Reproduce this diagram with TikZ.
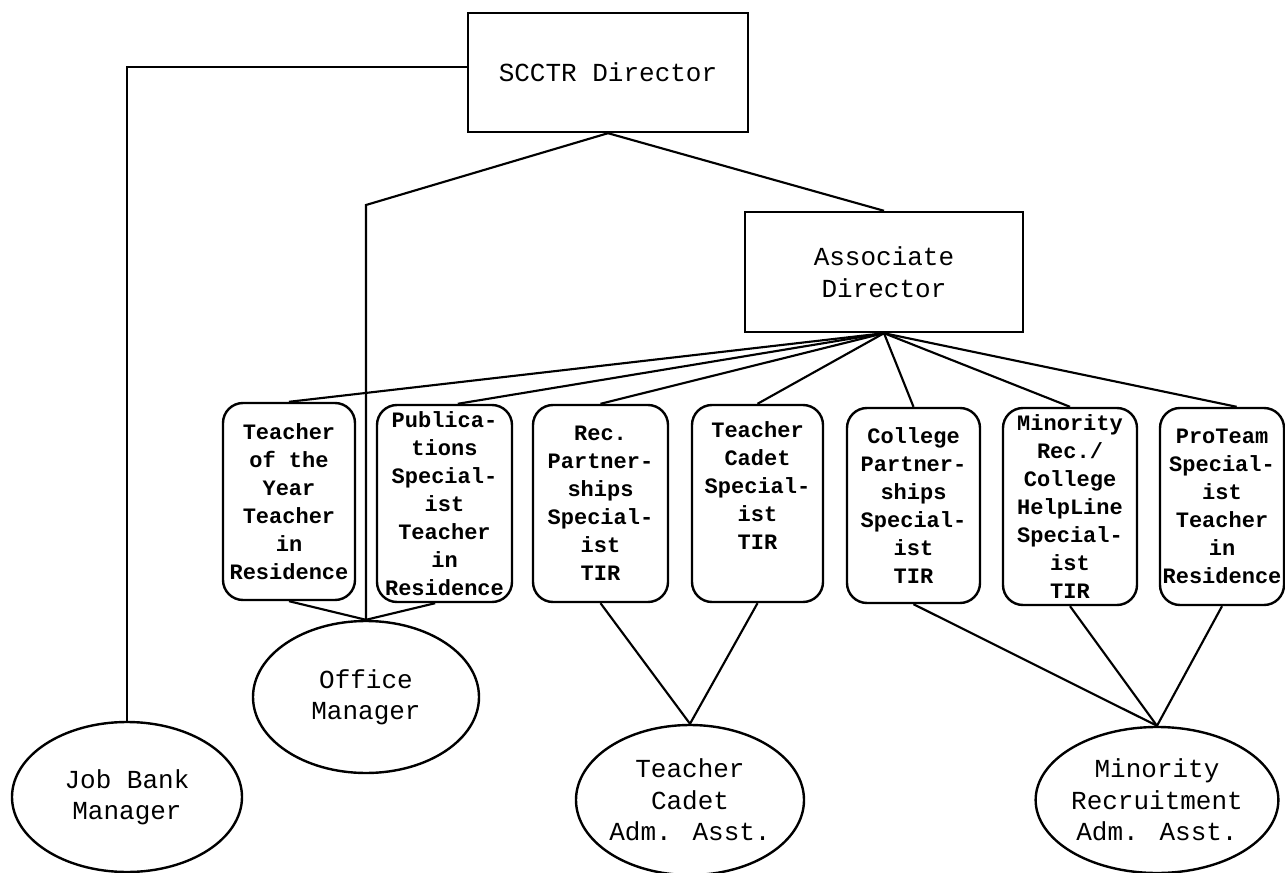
\documentclass[tikz,border=0pt]{standalone}
\usepackage{fontspec}
\setmainfont{Liberation Mono}
\usetikzlibrary{shapes.geometric}
\begin{document}
\begin{tikzpicture}[x=0.75pt,y=-0.75pt, line width=1.8pt,
 topbox/.style={draw, rectangle, inner sep=0pt, align=center, font=\fontsize{19.5}{24}\selectfont},
 rbox/.style={draw, rectangle, rounded corners=15pt, inner sep=0pt, align=center, font=\bfseries\fontsize{16.5}{21}\selectfont},
 oval/.style={draw, ellipse, inner sep=0pt, align=center, font=\fontsize{19.5}{23.5}\selectfont},
 conn/.style={line width=1.6pt}]
\useasboundingbox[fill=white] (0,0) rectangle (1285,873);

% top boxes
\node[topbox, minimum width=210pt, minimum height=89.25pt] (dir) at (608,72.5) {SCCTR Director};
\node[topbox, minimum width=208.5pt, minimum height=90pt] (asst) at (884,272) {Associate\\Director};

% rounded boxes
\node[rbox, minimum width=99pt, minimum height=147.75pt] (b1) at (289,501.5) {Teacher\\of the\\Year\\Teacher\\in\\Residence};
\node[rbox, minimum width=101.25pt, minimum height=147.75pt] (b2) at (444.5,503.5) {Publica-\\tions\\Special-\\ist\\Teacher\\in\\Residence};
\node[rbox, minimum width=101.25pt, minimum height=147.75pt] (b3) at (600.5,503.5) {Rec.\\Partner-\\ships\\Special-\\ist\\TIR};
\node[rbox, minimum width=98.25pt, minimum height=147.75pt] (b4) at (757.5,503.5) {Teacher\\Cadet\\Special-\\ist\\TIR\\[6pt]};
\node[rbox, minimum width=99.75pt, minimum height=146.25pt] (b5) at (913.5,505.5) {College\\Partner-\\ships\\Special-\\ist\\TIR};
\node[rbox, minimum width=100.5pt, minimum height=147.75pt] (b6) at (1070,506.5) {Minority\\Rec./\\College\\HelpLine\\Special-\\ist\\TIR};
\node[rbox, minimum width=93pt, minimum height=147.75pt] (b7) at (1222,506.5) {ProTeam\\Special-\\ist\\Teacher\\in\\Residence};

% ellipses
\node[oval, minimum width=172.5pt, minimum height=112.5pt] (jb) at (127,797) {Job Bank\\Manager};
\node[oval, minimum width=169.5pt, minimum height=114pt] (om) at (366,697) {Office\\Manager};
\node[oval, minimum width=171pt, minimum height=112.5pt] (tc) at (690,800) {Teacher\\Cadet\\Adm. Asst.};
\node[oval, minimum width=171pt, minimum height=109.5pt] (mr) at (1157,800) {Minority\\Recruitment\\Adm. Asst.};

\coordinate (jbc) at (127,67);
\coordinate (omc) at (366,205);

% connectors
\draw[conn] (dir.west |- jbc) -- (jbc) -- (jb.north);
\draw[conn] (dir.south) -- (omc) -- (om.north);
\draw[conn] (dir.south) -- (asst.north);
\draw[conn] (asst.south) -- (b1.north);
\draw[conn] (asst.south) -- ([xshift=10pt]b2.north);
\draw[conn] (asst.south) -- (b3.north);
\draw[conn] (asst.south) -- (b4.north);
\draw[conn] (asst.south) -- (b5.north);
\draw[conn] (asst.south) -- (b6.north);
\draw[conn] (asst.south) -- ([xshift=11pt]b7.north);
\draw[conn] (b1.south) -- (om.north) -- ([xshift=-7pt]b2.south);
\draw[conn] (b3.south) -- (tc.north) -- (b4.south);
\draw[conn] (b5.south) -- (mr.north);
\draw[conn] (b6.south) -- (mr.north);
\draw[conn] (b7.south) -- (mr.north);
\end{tikzpicture}
\end{document}
